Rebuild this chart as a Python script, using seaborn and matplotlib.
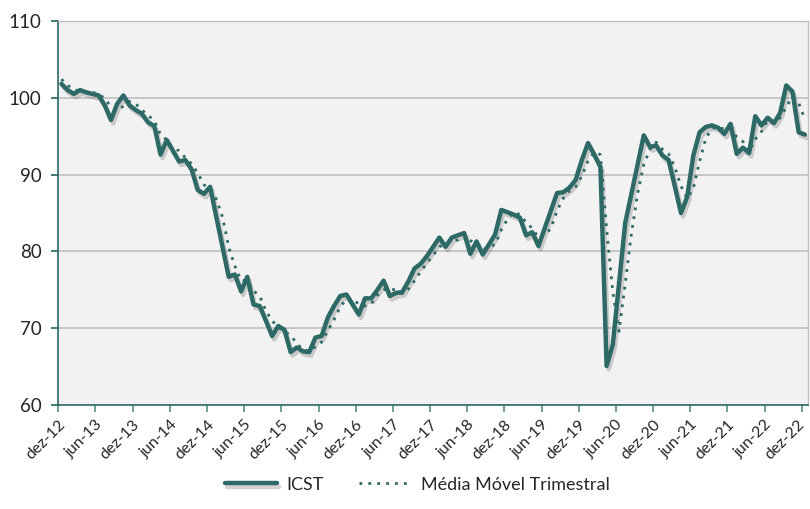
import matplotlib
matplotlib.use("Agg")
import matplotlib.pyplot as plt
import matplotlib.patheffects as pe
import matplotlib.transforms as mtransforms
import seaborn as sns
import pandas as pd

# valores (dez-12 a dez-22, mensal)
icst = [
    101.8, 101.0, 100.5, 101.0, 100.7, 100.5, 100.3, 99.0, 97.1, 99.2,
    100.3, 99.0, 98.4, 97.9, 96.8, 96.3, 92.6, 94.5, 93.1, 91.7,
    91.9, 90.7, 88.0, 87.5, 88.4, 84.5, 80.6, 76.7, 77.0, 74.8,
    76.7, 73.1, 72.9, 71.0, 69.0, 70.3, 69.8, 66.9, 67.5, 67.0,
    66.9, 68.8, 69.0, 71.4, 72.9, 74.2, 74.4, 73.1, 71.8, 73.9,
    73.9, 75.0, 76.2, 74.2, 74.6, 74.7, 76.1, 77.8, 78.4, 79.4,
    80.6, 81.8, 80.6, 81.8, 82.1, 82.4, 79.7, 81.3, 79.6, 80.9,
    82.2, 85.4, 85.1, 84.8, 84.4, 82.1, 82.5, 80.7, 83.0, 85.3,
    87.6, 87.7, 88.3, 89.3, 91.9, 94.1, 92.6, 91.0, 65.1, 67.9,
    75.8, 83.7, 87.5, 91.3, 95.1, 93.6, 93.8, 92.5, 91.9, 88.5,
    85.0, 87.1, 92.5, 95.5, 96.2, 96.4, 96.1, 95.3, 96.6, 92.7,
    93.5, 92.8, 97.6, 96.4, 97.4, 96.7, 98.0, 101.6, 100.8, 95.5,
    95.2,
]

media_movel = [
    102.4, 101.6, 101.1, 100.8, 100.7, 100.7, 100.5, 99.9, 98.8, 98.4,
    98.9, 99.5, 99.2, 98.4, 97.7, 97.0, 95.2, 94.5, 93.4, 93.1,
    92.2, 91.4, 90.2, 88.7, 88.0, 86.8, 84.5, 80.6, 78.1, 76.2,
    76.2, 74.9, 74.2, 72.3, 71.0, 70.1, 69.7, 69.0, 68.1, 67.1,
    67.1, 67.6, 68.2, 69.7, 71.1, 72.8, 73.8, 73.9, 73.1, 72.9,
    73.2, 74.3, 75.0, 75.1, 75.0, 74.5, 75.1, 76.2, 77.4, 78.5,
    79.5, 80.6, 81.0, 81.4, 81.5, 82.1, 81.4, 81.1, 80.2, 80.6,
    80.9, 82.8, 84.2, 85.1, 84.8, 83.8, 83.0, 81.8, 82.1, 83.0,
    85.3, 86.9, 87.9, 88.4, 89.8, 91.8, 92.9, 92.6, 82.9, 74.7,
    69.6, 75.8, 82.3, 87.5, 91.3, 93.3, 94.2, 93.3, 92.7, 91.0,
    88.5, 86.9, 88.2, 91.7, 94.7, 96.0, 96.2, 95.9, 96.0, 94.9,
    94.3, 93.0, 94.6, 95.6, 97.1, 96.8, 97.4, 98.8, 100.1, 99.3,
    97.2,
]

rotulos = [
    "dez-12", "jun-13", "dez-13", "jun-14", "dez-14", "jun-15", "dez-15",
    "jun-16", "dez-16", "jun-17", "dez-17", "jun-18", "dez-18", "jun-19",
    "dez-19", "jun-20", "dez-20", "jun-21", "dez-21", "jun-22", "dez-22",
]

cor = "#2d6966"

df = pd.DataFrame({
    "pos": [i + 0.5 for i in range(len(icst))],
    "ICST": icst,
    "Média Móvel Trimestral": media_movel,
})

sns.set_theme(style="white")
plt.rcParams["font.family"] = ["Lato", "DejaVu Sans"]

fig, ax = plt.subplots(figsize=(8.1, 5.09), dpi=100)
fig.subplots_adjust(left=0.072, right=0.9975, top=0.959, bottom=0.204)
ax.set_facecolor("#f2f2f2")

sns.lineplot(data=df, x="pos", y="ICST", ax=ax, color=cor, linewidth=3.2,
             label="ICST",
             path_effects=[pe.SimpleLineShadow(offset=(1.5, -2.5), shadow_color="#7f7f7f", alpha=0.35),
                           pe.Normal()])
sns.lineplot(data=df, x="pos", y="Média Móvel Trimestral", ax=ax, color=cor,
             linewidth=2.0, linestyle=(0, (1, 2.2)), label="Média Móvel Trimestral")

ax.set_xlim(0, len(icst))
ax.set_ylim(60, 110)
ax.set_yticks([60, 70, 80, 90, 100, 110])
ax.set_xticks(list(range(0, len(icst), 6)))
ax.set_xticklabels(rotulos, rotation=45, ha="right", rotation_mode="anchor", fontsize=11.5)
ax.tick_params(axis="y", labelsize=13.5, length=5, color=cor, direction="out", left=True, pad=7)
ax.tick_params(axis="x", length=5, color="#5f8f8c", direction="out", bottom=True, pad=4)
ax.set_xlabel("")
ax.set_ylabel("")

# último rótulo ligeiramente para a esquerda para não ficar cortado
ultimo = ax.get_xticklabels()[-1]
ultimo.set_transform(ultimo.get_transform() + mtransforms.ScaledTranslation(-3 / 72, 0, fig.dpi_scale_trans))

ax.yaxis.grid(True, color="#bfbfbf", linewidth=1.2)
ax.set_axisbelow(True)
for lado in ["top", "right"]:
    ax.spines[lado].set_color("#bfbfbf")
    ax.spines[lado].set_linewidth(1.0)
ax.spines["left"].set_color(cor)
ax.spines["bottom"].set_color(cor)
ax.spines["left"].set_linewidth(1.2)
ax.spines["bottom"].set_linewidth(1.2)

h, l = ax.get_legend_handles_labels()
ax.get_legend().remove()
fig.legend(h, l, loc="lower center", bbox_to_anchor=(0.515, 0.0), ncol=2,
           frameon=False, fontsize=13, handlelength=2.9, handletextpad=0.5,
           columnspacing=2.0)

fig.savefig("out.png", dpi=100)
